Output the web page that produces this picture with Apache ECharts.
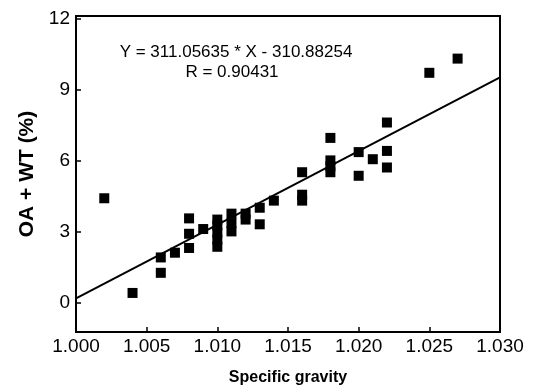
<!DOCTYPE html>
<html><head><meta charset="utf-8">
<script src="https://cdn.jsdelivr.net/npm/echarts@6/dist/echarts.min.js"></script>
<style>html,body{margin:0;padding:0;background:#fff}#c{width:537px;height:391px}</style>
</head><body><div id="c"></div>
<script>
// Specific gravity (x) and OA + WT (%) (y)
const sgValues = [1.002,1.004,1.006,1.006,1.007,1.008,1.008,1.008,1.009,
  1.010,1.010,1.010,1.010,1.010,1.011,1.011,1.011,1.012,1.012,1.013,1.013,1.014,
  1.016,1.016,1.016,1.018,1.018,1.018,1.018,1.020,1.020,1.021,1.022,1.022,1.022,1.025,1.027];
const oaWtValues = [4.4,0.4,1.9,1.25,2.1,3.55,2.9,2.3,3.1,
  2.35,2.65,2.95,3.25,3.5,3.0,3.35,3.75,3.5,3.75,4.0,3.3,4.3,
  4.3,4.55,5.5,6.95,5.5,5.75,6.0,6.35,5.35,6.05,7.6,6.4,5.7,9.7,10.3];
// Regression line endpoints (from the stated fit Y = 311.05635 * X - 310.88254)
const fitX = [1.000, 1.030];
const fitY = [0.17, 9.51];
const xTicks = [1.000,1.005,1.010,1.015,1.020,1.025,1.030];
const yTicks = [0,3,6,9,12];
const eqText = 'Y = 311.05635 * X - 310.88254';
const rText = 'R = 0.90431';

const pts = sgValues.map((x,i)=>[x,oaWtValues[i]]);
const fit = fitX.map((x,i)=>[x,fitY[i]]);
const font = 'Liberation Sans, Arial, sans-serif';
const chart = echarts.init(document.getElementById('c'));
chart.setOption({
  animation:false,
  backgroundColor:'#fff',
  grid:{left:76,right:37,top:16,bottom:58,show:true,borderColor:'#000',borderWidth:2,backgroundColor:'transparent'},
  xAxis:{type:'value',min:1.000,max:1.030,interval:0.005,
    name:'Specific gravity',nameLocation:'middle',nameGap:38,
    nameTextStyle:{fontFamily:font,fontSize:16,fontWeight:'bold',color:'#000'},
    axisLine:{show:true,onZero:false,lineStyle:{color:'#000',width:2}},
    axisTick:{show:true,inside:true,length:5,lineStyle:{color:'#000',width:1.5}},
    axisLabel:{fontFamily:font,fontSize:19,color:'#000',margin:5,
      formatter:v=>v.toFixed(3),customValues:xTicks},
    splitLine:{show:false}},
  yAxis:{type:'value',min:-1.25,max:12.1,
    name:'OA + WT (%)',nameLocation:'middle',nameGap:36,nameRotate:90,
    nameTextStyle:{fontFamily:font,fontSize:21,fontWeight:'bold',color:'#000'},
    axisLine:{show:true,onZero:false,lineStyle:{color:'#000',width:2}},
    axisTick:{show:true,inside:true,length:5,customValues:yTicks,lineStyle:{color:'#000',width:1.5}},
    axisLabel:{fontFamily:font,fontSize:19,color:'#000',margin:6,customValues:yTicks},
    splitLine:{show:false}},
  graphic:[
    {type:'text',style:{text:eqText,x:236,y:52,align:'center',verticalAlign:'middle',
      font:'17px '+font,fill:'#000'}},
    {type:'text',style:{text:rText,x:232,y:72,align:'center',verticalAlign:'middle',
      font:'17px '+font,fill:'#000'}}
  ],
  series:[
    {type:'line',data:fit,symbol:'none',lineStyle:{color:'#000',width:2},z:3},
    {type:'scatter',data:pts,symbol:'rect',symbolSize:10,itemStyle:{color:'#000',opacity:1},z:4}
  ]
});
</script></body></html>
